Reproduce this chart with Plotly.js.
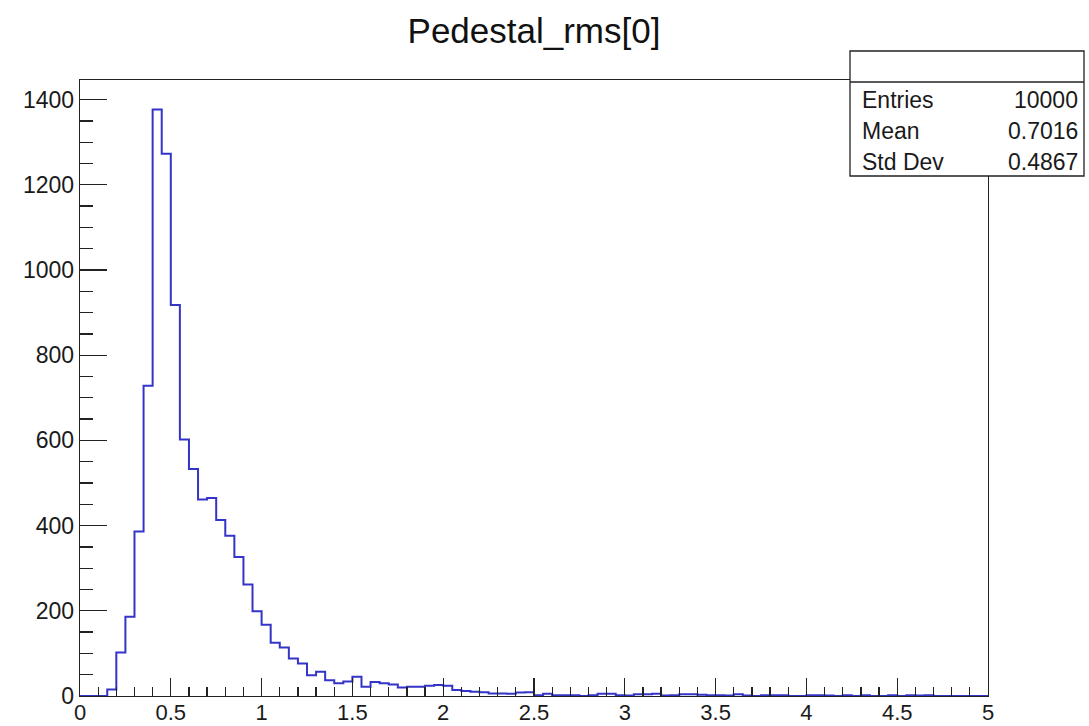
<!DOCTYPE html>
<html>
<head>
<meta charset="utf-8">
<script src="https://cdn.plot.ly/plotly-3.0.1.min.js"></script>
<style>html,body{margin:0;padding:0;background:#fff;} #plot{width:1089px;height:726px;}</style>
</head>
<body>
<div id="plot"></div>
<script>
// Histogram: 100 bins from 0 to 5
const binStart = 0;
const binWidth = 0.05;
const counts = [
  0, 0, 0, 15, 102, 186, 386, 728, 1377, 1273,
  918, 602, 533, 461, 465, 413, 376, 326, 262, 199,
  167, 125, 114, 88, 76, 49, 57, 37, 30, 34,
  45, 22, 33, 30, 27, 20, 22, 22, 24, 26,
  24, 14, 12, 10, 9, 6, 6, 5, 8, 9,
  2, 5, 2, 2, 2, 0, 2, 5, 5, 2,
  1, 4, 4, 5, 1, 2, 4, 4, 3, 2,
  2, 1, 4, 1, 0, 2, 2, 2, 0, 0,
  2, 2, 1, 0, 2, 0, 2, 0, 0, 2,
  0, 2, 1, 2, 0, 0, 0, 0, 0, 0
];
const titleText = "Pedestal_rms[0]";
const statLabels = ["Entries", "Mean", "Std Dev"];
const statValues = ["10000", "0.7016", "0.4867"];

const edges = counts.map((c, i) => binStart + i * binWidth);
edges.push(binStart + counts.length * binWidth);
const xs = [binStart].concat(edges);
const ys = [0].concat(counts, [0]);

const FONT = "Liberation Sans, Arial, Helvetica, sans-serif";
const W = 1089, H = 726;
const L = 80, R = 101, T = 80, B = 30;
const pw = W - L - R, ph = H - T - B;
const px = v => (v - L) / pw;
const py = v => (H - B - v) / ph;

const trace = {
  x: xs, y: ys, type: 'scatter', mode: 'lines',
  line: {shape: 'hv', color: '#3434c8', width: 2},
  hoverinfo: 'skip'
};

const boxL = 850, boxR = 1084, boxT = 51, boxSep = 82, boxB = 176;
const shapes = [
  {type: 'rect', xref: 'paper', yref: 'paper', x0: px(boxL), x1: px(boxR), y0: py(boxB), y1: py(boxT),
   line: {color: '#222', width: 1.3}, fillcolor: '#fff', layer: 'above'},
  {type: 'line', xref: 'paper', yref: 'paper', x0: px(boxL), x1: px(boxR), y0: py(boxSep), y1: py(boxSep),
   line: {color: '#222', width: 1.3}, layer: 'above'}
];
const rowY = [100, 131, 162];
const annotations = [];
statLabels.forEach((lab, i) => {
  annotations.push({xref: 'paper', yref: 'paper', x: px(860), y: py(rowY[i]), xanchor: 'left', yanchor: 'middle',
    text: lab, showarrow: false, font: {family: FONT, size: 23, color: '#1a1a1a'}});
  annotations.push({xref: 'paper', yref: 'paper', x: px(1080), y: py(rowY[i]), xanchor: 'right', yanchor: 'middle',
    text: statValues[i], showarrow: false, font: {family: FONT, size: 23, color: '#1a1a1a'}});
});

const layout = {
  width: W, height: H,
  margin: {l: L, r: R, t: T, b: B, pad: 0},
  paper_bgcolor: '#fff', plot_bgcolor: '#fff',
  showlegend: false,
  title: {text: titleText, x: 0.5, xref: 'paper', y: 1 - 31 / H, yref: 'container', yanchor: 'middle',
    font: {family: FONT, size: 35, color: '#111'}},
  xaxis: {
    range: [0, 5], dtick: 0.5, tick0: 0, showgrid: false, zeroline: false,
    ticks: 'inside', ticklen: 18, tickwidth: 1.3, tickcolor: '#222',
    minor: {dtick: 0.1, ticks: 'inside', ticklen: 9, tickwidth: 1.3, tickcolor: '#222', showgrid: false},
    showline: true, linecolor: '#222', linewidth: 1.3, mirror: true,
    ticklabelstandoff: -4,
    tickfont: {family: FONT, size: 22, color: '#1a1a1a'}, fixedrange: true
  },
  yaxis: {
    range: [0, 1446], dtick: 200, tick0: 0, showgrid: false, zeroline: false,
    ticks: 'inside', ticklen: 27, tickwidth: 1.3, tickcolor: '#222',
    minor: {dtick: 50, ticks: 'inside', ticklen: 13, tickwidth: 1.3, tickcolor: '#222', showgrid: false},
    showline: true, linecolor: '#222', linewidth: 1.3, mirror: true,
    tickfont: {family: FONT, size: 23, color: '#1a1a1a'}, fixedrange: true
  },
  shapes: shapes,
  annotations: annotations
};

Plotly.newPlot('plot', [trace], layout, {displayModeBar: false, staticPlot: true});
</script>
</body>
</html>
